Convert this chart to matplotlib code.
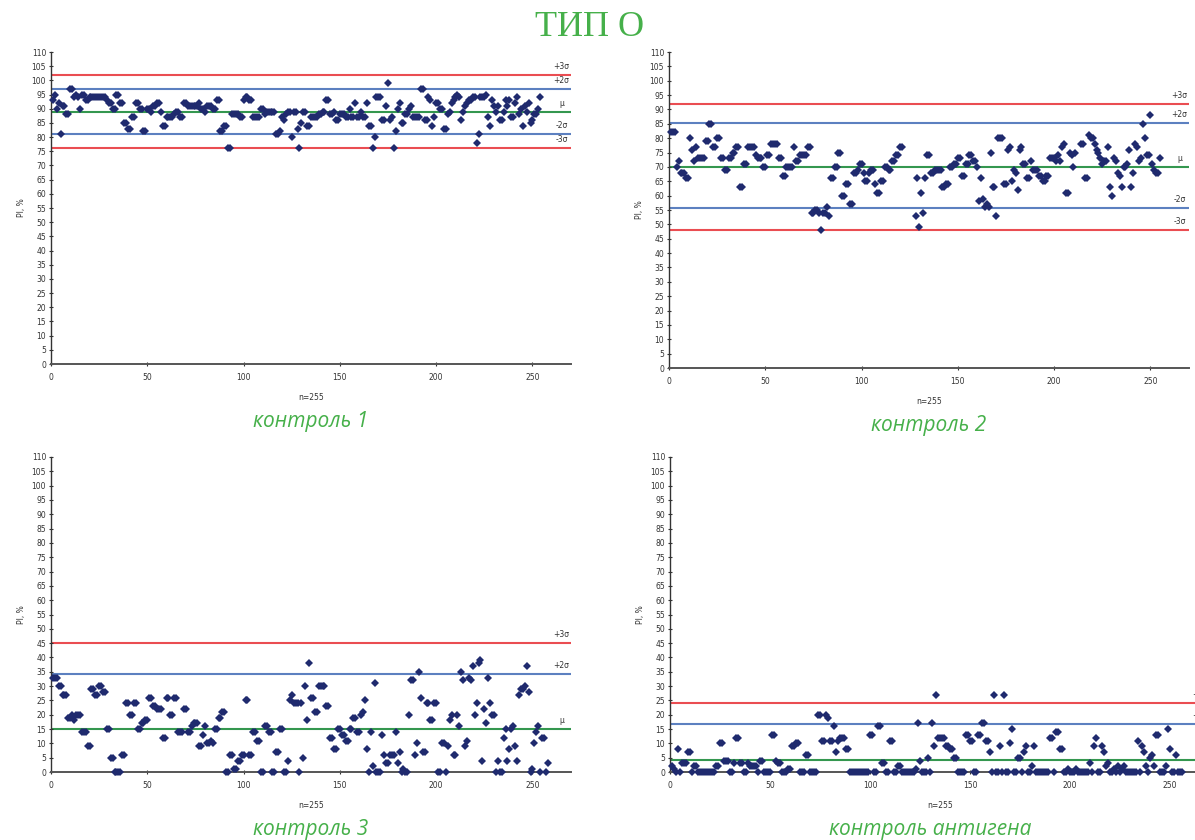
import numpy as np
import matplotlib
matplotlib.use('Agg')
import matplotlib.pyplot as plt
from matplotlib.ticker import MultipleLocator

nan = np.nan

# PI, % for each sample (n=255)
pi_k1 = [93,95,90,92,81,91,91,88,88,97,97,
         94,95,94,90,95,95,93,93,
         94,94,94,94,94,94,94,94,94,
         93,92,92,90,90,
         95,95,92,92,85,85,83,83,87,87,92,92,90,90,82,82,90,90,89,91,91,92,92,89,84,84,
         87,87,87,87,88,89,89,87,87,92,92,
         91,91,91,91,91,91,92,90,90,89,91,91,91,90,90,93,93,82,82,84,84,76,76,
         88,88,88,88,87,87,93,94,94,93,93,87,87,87,87,90,90,88,89,89,89,89,89,81,81,
         82,87,86,88,89,89,80,89,89,83,76,85,89,89,84,84,87,87,87,87,88,88,89,89,93,93,
         88,88,89,86,86,88,88,88,
         87,87,90,87,87,92,87,87,89,87,87,92,84,84,76,80,94,94,94,86,86,91,99,86,87,76,
         82,90,92,85,85,88,88,90,91,87,87,87,87,97,97,86,86,94,93,84,87,92,92,90,90,83,83,
         88,89,92,93,94,95,94,86,89,91,92,93,93,94,94,78,81,94,94,94,95,87,84,93,91,89,
         91,86,86,89,93,91,93,87,87,92,94,88,90,84,91,89,92,85,86,88,88,90,94]

pi_k2 = [82,82,82,70,72,68,68,68,66,66,80,76,72,77,73,73,73,73,79,79,85,85,77,77,80,80,
         73,73,69,69,73,73,75,75,77,77,63,63,71,71,77,77,77,77,74,73,73,73,70,70,74,74,
         78,78,78,78,73,73,67,67,70,70,70,70,77,72,72,74,74,74,74,77,77,54,54,55,55,54,
         48,54,54,56,53,66,66,70,70,75,75,60,60,64,64,57,57,68,68,69,71,71,68,65,65,68,
         69,69,64,61,61,65,65,70,70,69,69,72,72,74,74,77,77,
         nan,nan,nan,nan,nan,nan,
         53,66,49,61,54,66,74,74,68,68,69,69,69,69,63,63,64,64,70,70,71,71,73,73,67,67,
         71,71,74,74,72,72,70,58,66,59,56,57,56,75,63,63,53,80,80,80,64,64,76,77,65,69,
         68,62,76,77,71,71,66,66,72,69,69,69,67,67,65,65,67,67,73,73,73,72,74,72,77,78,
         61,61,75,74,70,75,nan,nan,78,78,66,66,81,80,80,78,76,75,73,71,72,72,77,63,60,
         73,72,68,67,63,70,70,71,76,63,68,78,77,72,73,85,80,74,74,88,71,69,68,68,73]

pi_k3 = [33,33,33,30,30,27,27,27,19,19,20,18,20,20,20,14,14,14,9,9,29,29,27,27,30,30,
         28,28,15,15,5,5,0,0,0,0,6,6,24,24,20,20,24,24,15,15,17,17,18,18,26,26,23,23,
         22,22,22,12,12,26,26,20,20,26,26,14,14,14,22,22,14,14,16,17,17,17,9,9,13,16,
         10,10,11,10,15,15,19,19,21,21,0,0,6,6,1,1,4,4,6,6,25,25,6,6,14,14,11,11,0,0,
         16,16,14,14,0,0,7,7,15,15,0,0,4,25,27,24,24,24,0,24,5,30,18,38,26,26,21,21,
         30,30,30,30,23,23,12,12,8,8,15,15,13,13,11,11,15,15,19,19,14,14,20,21,25,8,
         0,14,2,31,0,0,0,13,6,3,3,6,6,6,14,3,7,0,1,0,0,20,32,32,6,10,35,26,7,7,24,24,
         18,18,24,24,0,0,10,10,0,9,18,20,6,6,20,16,35,32,9,11,33,32,37,20,24,38,39,4,
         22,17,33,24,20,20,0,4,0,0,12,15,4,8,15,16,9,4,27,29,29,30,37,28,0,1,10,14,16,
         0,12,12,0,3]

pi_ag = [2,1,0,8,0,3,3,3,7,7,0,2,2,0,
         0,0,0,0,0,0,0,0,2,2,10,10,4,4,4,0,0,3,12,12,3,3,0,0,3,2,2,2,2,0,4,4,
         0,0,0,0,13,13,4,3,3,0,0,0,1,1,9,9,10,10,0,0,0,6,6,0,0,0,0,20,20,11,11,
         20,19,11,11,16,7,11,12,12,12,8,8,0,0,0,0,0,0,0,0,0,0,13,13,0,0,16,16,3,3,
         0,0,11,11,0,0,2,2,0,0,0,0,0,0,0,1,17,4,0,0,0,5,0,17,9,27,12,12,12,12,9,9,
         8,8,5,5,0,0,0,0,13,13,11,11,0,0,13,13,17,17,11,11,7,0,27,0,0,9,0,27,0,0,10,
         15,0,0,5,5,0,7,9,0,0,2,9,0,0,0,0,0,0,0,12,12,0,14,14,8,8,0,0,1,0,0,0,1,
         0,0,0,0,0,0,3,0,9,12,0,0,9,7,2,3,0,0,1,0,2,0,1,2,0,0,0,0,0,0,11,0,9,7,2,0,
         5,6,2,13,13,0,0,0,2,15,8,0,0,6,0,0,0]

# control limits: (+3s, +2s, mean, -2s, -3s)
limits_k1 = [102.0, 96.8, 88.9, 81.0, 76.0]
limits_k2 = [91.8, 85.2, 70.0, 55.8, 48.0]
limits_k3 = [45.0, 34.2, 15.0, None, None]
limits_ag = [24.2, 16.8, 4.2, None, None]

lim_names = ['+3σ', '+2σ', 'μ', '-2σ', '-3σ']
lim_colors = ['#e8393f', '#4a72ba', '#1e8c3c', '#4a72ba', '#e8393f']

panels = [
    ('контроль 1', pi_k1, limits_k1),
    ('контроль 2', pi_k2, limits_k2),
    ('контроль 3', pi_k3, limits_k3),
    ('контроль антигена', pi_ag, limits_ag),
]

W, H = 1195, 840
fig = plt.figure(figsize=(W / 100, H / 100), dpi=100)

# axes boxes in pixels: left, bottom(y of 0), width, top(y of 110)
boxes = [(51, 364, 520, 52), (669, 368, 520, 52),
         (51, 772, 520, 457), (670, 772, 540, 457)]
green = '#46b04a'
navy = '#1f2a6e'

for (name, vals, lims), (lx, by, w, ty) in zip(panels, boxes):
    ax = fig.add_axes([lx / W, 1 - by / H, w / W, (by - ty) / H])
    for lab, val, col in zip(lim_names, lims, lim_colors):
        if val is None:
            continue
        ax.axhline(val, color=col, lw=1.5, alpha=0.9, zorder=1)
        # the last panel runs past the page edge, so its labels are cut as in the source
        ax.annotate(lab, xy=(0.982, val), xycoords=('axes fraction', 'data'),
                    xytext=(0, 3), textcoords='offset points',
                    ha='center', va='bottom', fontsize=5.5, color='#333333',
                    annotation_clip=False)
    y = np.array(vals, dtype=float)
    x = np.arange(1, len(y) + 1)
    ax.plot(x, y, linestyle='none', marker='D', ms=3.7, color=navy,
            markeredgewidth=0, zorder=3, clip_on=False)
    ax.set_xlim(0, 270)
    ax.set_ylim(0, 110)
    ax.yaxis.set_major_locator(MultipleLocator(5))
    ax.set_xticks([0, 50, 100, 150, 200, 250])
    for s in ['top', 'right']:
        ax.spines[s].set_visible(False)
    ax.spines['left'].set_color('#333333')
    ax.spines['left'].set_linewidth(1.0)
    ax.spines['bottom'].set_color('#555555')
    ax.spines['bottom'].set_linewidth(1.4)
    ax.tick_params(axis='both', labelsize=5.5, length=3, width=0.8,
                   colors='#333333', direction='inout', pad=2)
    ax.tick_params(axis='x', pad=5)
    ax.set_ylabel('PI, %', fontsize=5.5, labelpad=4, color='#333333')
    ax.set_xlabel('n=255', fontsize=5.5, labelpad=8, color='#333333')
    cx = (lx + 520 / 2) / W
    fig.text(cx, 1 - (by + 57) / H, name, ha='center', va='center',
             fontsize=15, style='italic', color=green, family='Open Sans')

fig.text(590 / W, 1 - 27 / H, 'ТИП О', ha='center', va='center',
         fontsize=26, color=green, family='Liberation Serif')

fig.savefig('out.png', dpi=100)
